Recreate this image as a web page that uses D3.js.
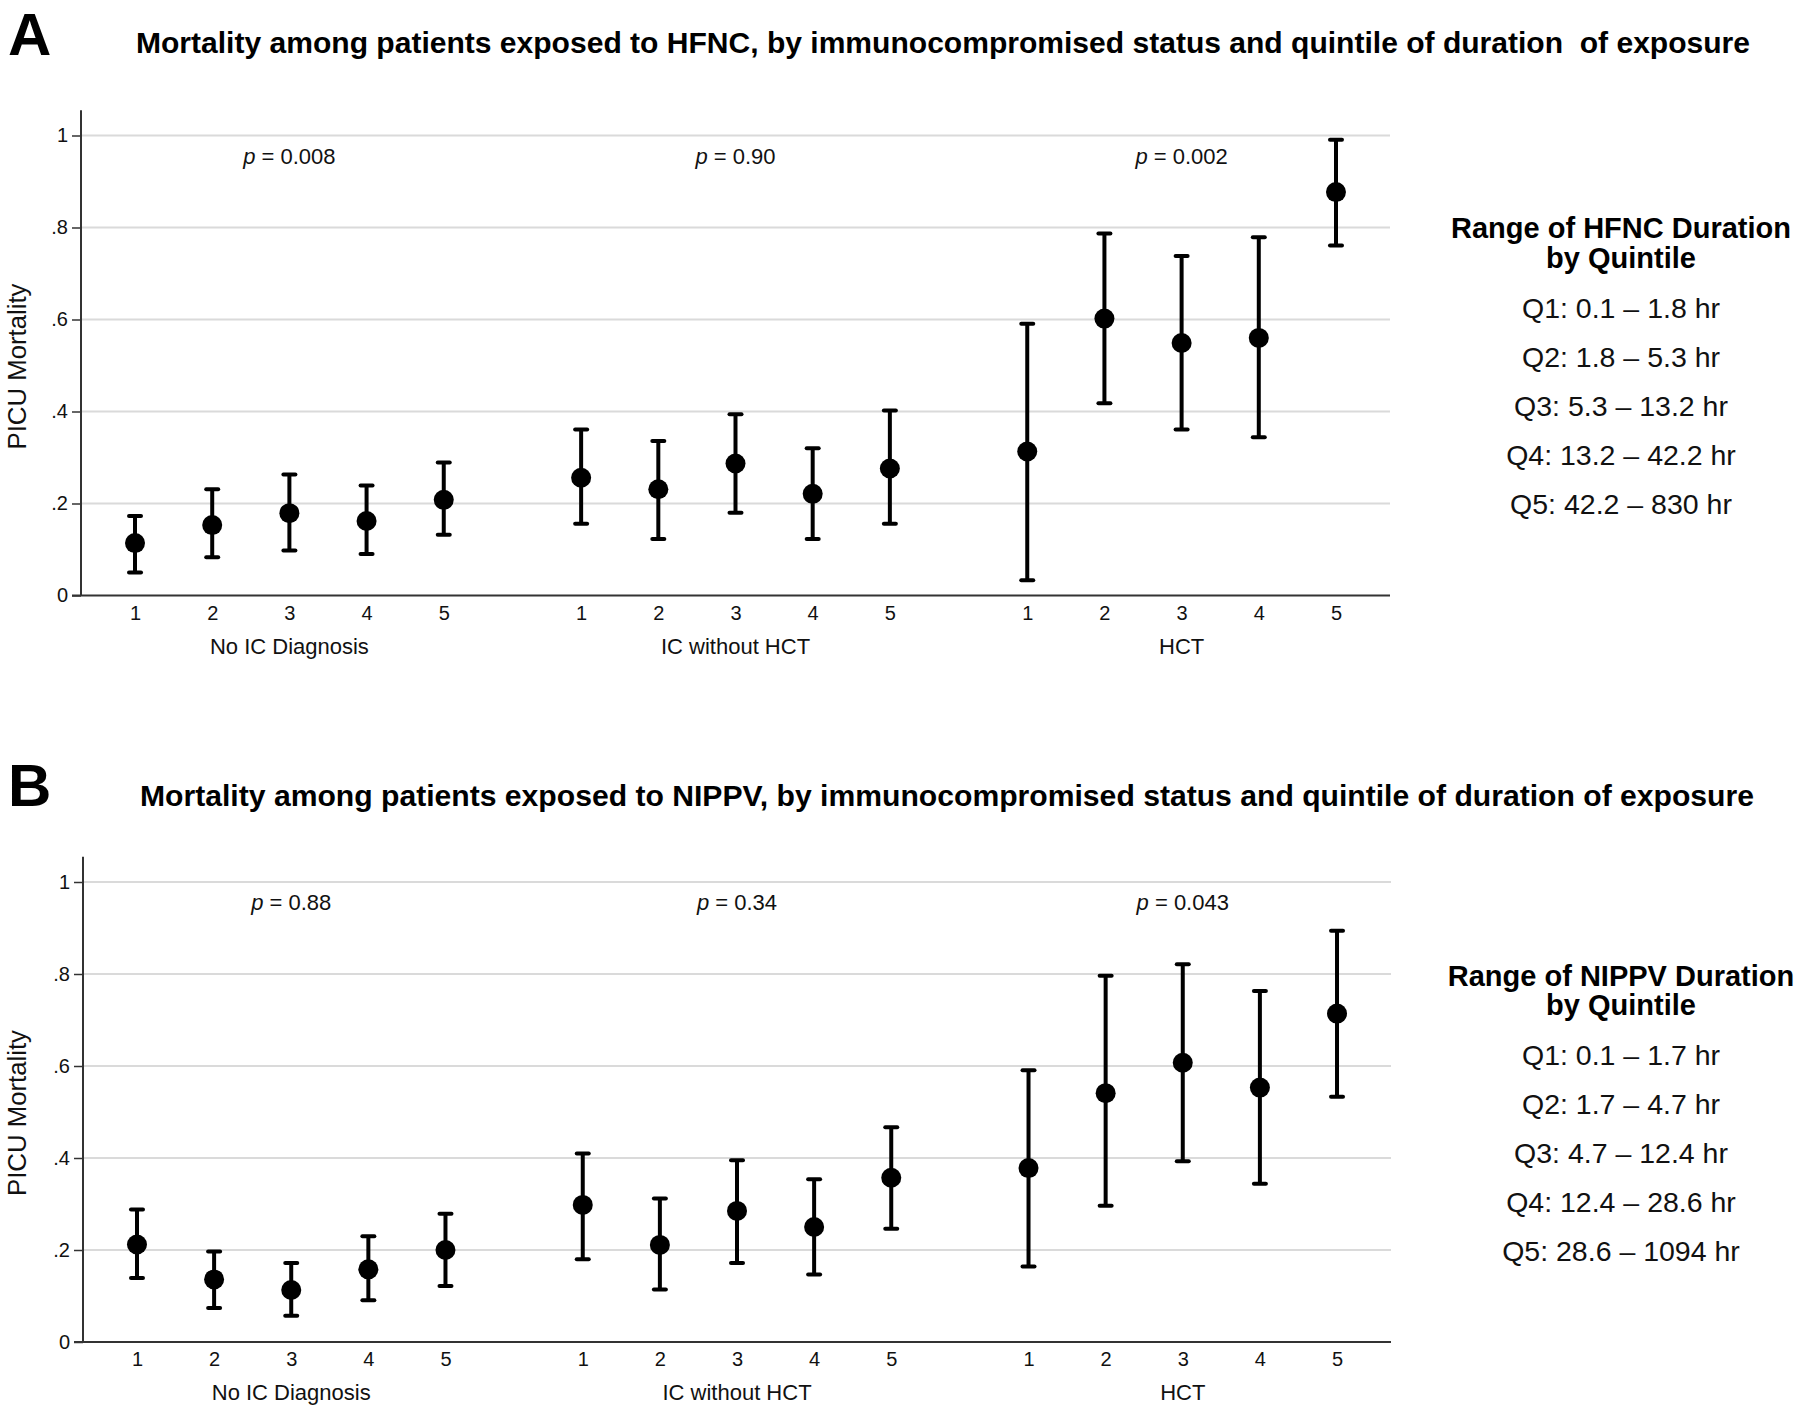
<!DOCTYPE html>
<html>
<head>
<meta charset="utf-8">
<script src="https://cdn.jsdelivr.net/npm/d3@7"></script>
<style>
  body { margin: 0; background: #fff; }
  svg { display: block; font-family: "Liberation Sans", Arial, Helvetica, sans-serif; }
</style>
</head>
<body>
<div id="chart"></div>
<script>
// ---- data ----
const quintiles = [1, 2, 3, 4, 5];
const groups = ['No IC Diagnosis', 'IC without HCT', 'HCT'];

// order: No IC Q1..Q5, IC w/o HCT Q1..Q5, HCT Q1..Q5
const hfncEst = [0.114, 0.153, 0.179, 0.162, 0.208, 0.256, 0.231, 0.287, 0.221, 0.276, 0.313, 0.602, 0.549, 0.560, 0.877];
const hfncLo  = [0.050, 0.083, 0.098, 0.090, 0.132, 0.156, 0.123, 0.180, 0.123, 0.156, 0.033, 0.418, 0.361, 0.344, 0.761];
const hfncHi  = [0.173, 0.231, 0.263, 0.239, 0.289, 0.361, 0.336, 0.394, 0.320, 0.402, 0.591, 0.787, 0.738, 0.779, 0.991];

const nippvEst = [0.212, 0.136, 0.113, 0.158, 0.200, 0.298, 0.211, 0.285, 0.250, 0.357, 0.378, 0.541, 0.607, 0.553, 0.714];
const nippvLo  = [0.139, 0.074, 0.057, 0.091, 0.122, 0.180, 0.114, 0.172, 0.147, 0.246, 0.164, 0.296, 0.393, 0.344, 0.533];
const nippvHi  = [0.288, 0.197, 0.172, 0.230, 0.279, 0.410, 0.312, 0.395, 0.354, 0.467, 0.591, 0.796, 0.821, 0.763, 0.894];

const hfncP = ['0.008', '0.90', '0.002'];
const nippvP = ['0.88', '0.34', '0.043'];

const hfncRanges = ['Q1: 0.1 \u2013 1.8 hr', 'Q2: 1.8 \u2013 5.3 hr', 'Q3: 5.3 \u2013 13.2 hr', 'Q4: 13.2 \u2013 42.2 hr', 'Q5: 42.2 \u2013 830 hr'];
const nippvRanges = ['Q1: 0.1 \u2013 1.7 hr', 'Q2: 1.7 \u2013 4.7 hr', 'Q3: 4.7 \u2013 12.4 hr', 'Q4: 12.4 \u2013 28.6 hr', 'Q5: 28.6 \u2013 1094 hr'];

const yTicks = [0, 0.2, 0.4, 0.6, 0.8, 1];
const yTickLabels = ['0', '.2', '.4', '.6', '.8', '1'];

const GROUP_STEP = 5.78; // distance between groups in quintile units

const svg = d3.select('#chart').append('svg')
    .attr('width', 1800)
    .attr('height', 1410);

class ErrorPanel {

    constructor(_config, _data) {
        this.config = _config;
        this.data = _data;
        this.initVis();
    }

    initVis() {
        let vis = this;
        let c = vis.config;

        vis.g = svg.append('g');

        vis.x = d3.scaleLinear()
            .domain([0.30, 2 * GROUP_STEP + 5 + 0.70])
            .range([c.left, c.right]);

        vis.y = d3.scaleLinear()
            .domain([0, 1])
            .range([c.zeroY, c.oneY]);

        vis.pos = (gi, q) => vis.x(gi * GROUP_STEP + q);

        // panel letter + title
        vis.g.append('text')
            .attr('x', 8)
            .attr('y', c.letterY)
            .attr('font-size', 60)
            .attr('font-weight', 'bold')
            .text(c.letter);

        vis.g.append('text')
            .attr('x', c.titleX)
            .attr('y', c.titleY)
            .attr('font-size', 29)
            .attr('font-weight', 'bold')
            .attr('textLength', c.titleLen)
            .attr('lengthAdjust', 'spacingAndGlyphs')
            .style('white-space', 'pre')
            .text(c.title);

        // gridlines
        vis.g.append('g')
            .selectAll('line')
            .data(yTicks.filter(d => d > 0))
            .join('line')
            .attr('x1', c.left)
            .attr('x2', c.right)
            .attr('y1', d => vis.y(d))
            .attr('y2', d => vis.y(d))
            .attr('stroke', '#dadada')
            .attr('stroke-width', 2);

        // y axis
        vis.yAxis = d3.axisLeft(vis.y)
            .tickValues(yTicks)
            .tickFormat((d, i) => yTickLabels[i])
            .tickSize(9)
            .tickPadding(4);

        let ya = vis.g.append('g')
            .attr('transform', `translate(${c.left},0)`)
            .call(vis.yAxis);
        ya.select('.domain').remove();
        ya.selectAll('line').attr('stroke', '#333').attr('stroke-width', 1.5);
        ya.selectAll('text')
            .attr('font-size', 20)
            .attr('fill', '#111')
            .attr('font-family', null);

        vis.g.append('line')
            .attr('x1', c.left).attr('x2', c.left)
            .attr('y1', vis.y(1.055)).attr('y2', vis.y(0))
            .attr('stroke', '#333').attr('stroke-width', 2);

        // x axis
        let tickPos = [];
        groups.forEach((g, gi) => quintiles.forEach(q => tickPos.push(gi * GROUP_STEP + q)));

        vis.xAxis = d3.axisBottom(vis.x)
            .tickValues(tickPos)
            .tickFormat((d, i) => quintiles[i % 5])
            .tickSize(0)
            .tickPadding(10);

        let xa = vis.g.append('g')
            .attr('transform', `translate(0,${vis.y(0)})`)
            .call(vis.xAxis);
        xa.select('.domain').remove();
        xa.selectAll('text')
            .attr('font-size', 20)
            .attr('fill', '#111')
            .attr('font-family', null);

        vis.g.append('line')
            .attr('x1', c.left - 9).attr('x2', c.right)
            .attr('y1', vis.y(0)).attr('y2', vis.y(0))
            .attr('stroke', '#333').attr('stroke-width', 2);

        // group labels
        vis.g.append('g')
            .selectAll('text')
            .data(groups)
            .join('text')
            .attr('x', (d, i) => vis.pos(i, 3))
            .attr('y', vis.y(0) + 58)
            .attr('text-anchor', 'middle')
            .attr('font-size', 22)
            .attr('fill', '#111')
            .text(d => d);

        // y title
        vis.g.append('text')
            .attr('transform', `translate(26,${(c.zeroY + c.oneY) / 2 + 1}) rotate(-90)`)
            .attr('text-anchor', 'middle')
            .attr('font-size', 25)
            .attr('fill', '#111')
            .attr('textLength', 166)
            .attr('lengthAdjust', 'spacingAndGlyphs')
            .text('PICU Mortality');

        // p-values
        let pt = vis.g.append('g')
            .selectAll('text')
            .data(vis.data.p)
            .join('text')
            .attr('x', (d, i) => vis.pos(i, 3))
            .attr('y', vis.y(1) + 28)
            .attr('text-anchor', 'middle')
            .attr('font-size', 22)
            .attr('fill', '#111');
        pt.append('tspan').attr('font-style', 'italic').text('p');
        pt.append('tspan').text(d => ' = ' + d);

        // legend
        let lx = 1621;
        vis.g.append('text')
            .attr('x', lx).attr('y', c.legendY[0])
            .attr('text-anchor', 'middle')
            .attr('font-size', 29).attr('font-weight', 'bold')
            .text(c.legendTitle);
        vis.g.append('text')
            .attr('x', lx).attr('y', c.legendY[1])
            .attr('text-anchor', 'middle')
            .attr('font-size', 29).attr('font-weight', 'bold')
            .text('by Quintile');
        vis.g.append('g')
            .selectAll('text')
            .data(vis.data.ranges)
            .join('text')
            .attr('x', lx)
            .attr('y', (d, i) => c.legendY[2] + i * c.legendStep)
            .attr('text-anchor', 'middle')
            .attr('font-size', 28.5)
            .attr('fill', '#111')
            .text(d => d);

        vis.updateVis();
    }

    updateVis() {
        let vis = this;
        let d = vis.data;

        vis.points = d.est.map((v, i) => ({
            gi: Math.floor(i / 5),
            q: quintiles[i % 5],
            est: v,
            lo: d.lo[i],
            hi: d.hi[i]
        }));

        let bars = vis.g.append('g')
            .selectAll('g')
            .data(vis.points)
            .join('g');

        bars.append('line')
            .attr('x1', p => vis.pos(p.gi, p.q))
            .attr('x2', p => vis.pos(p.gi, p.q))
            .attr('y1', p => vis.y(p.lo))
            .attr('y2', p => vis.y(p.hi))
            .attr('stroke', '#000')
            .attr('stroke-width', 4);

        ['lo', 'hi'].forEach(k => {
            bars.append('line')
                .attr('x1', p => vis.pos(p.gi, p.q) - 6)
                .attr('x2', p => vis.pos(p.gi, p.q) + 6)
                .attr('y1', p => vis.y(p[k]))
                .attr('y2', p => vis.y(p[k]))
                .attr('stroke', '#000')
                .attr('stroke-width', 4)
                .attr('stroke-linecap', 'round');
        });

        bars.append('circle')
            .attr('cx', p => vis.pos(p.gi, p.q))
            .attr('cy', p => vis.y(p.est))
            .attr('r', 10)
            .attr('fill', '#000');
    }
}

new ErrorPanel({
    letter: 'A', letterY: 55,
    title: 'Mortality among patients exposed to HFNC, by immunocompromised status and quintile of duration  of exposure',
    titleX: 136, titleY: 53, titleLen: 1614,
    left: 81, right: 1390, zeroY: 595.5, oneY: 135.5,
    legendTitle: 'Range of HFNC Duration',
    legendY: [238, 268, 318], legendStep: 49
}, { est: hfncEst, lo: hfncLo, hi: hfncHi, p: hfncP, ranges: hfncRanges });

new ErrorPanel({
    letter: 'B', letterY: 806,
    title: 'Mortality among patients exposed to NIPPV, by immunocompromised status and quintile of duration of exposure',
    titleX: 140, titleY: 806, titleLen: 1614,
    left: 83, right: 1391, zeroY: 1342, oneY: 882,
    legendTitle: 'Range of NIPPV Duration',
    legendY: [986, 1015, 1065], legendStep: 49
}, { est: nippvEst, lo: nippvLo, hi: nippvHi, p: nippvP, ranges: nippvRanges });
</script>
</body>
</html>
